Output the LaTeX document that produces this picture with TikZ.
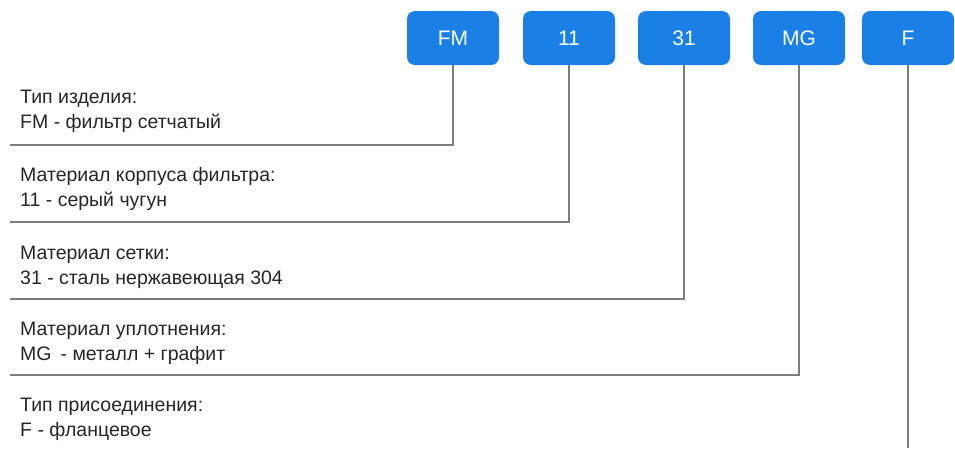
\documentclass[tikz,border=0pt]{standalone}
\usepackage{fontspec}
\setmainfont{Liberation Sans}
\definecolor{codeblue}{RGB}{26,128,229}
\definecolor{leadgray}{RGB}{125,125,125}
\tikzset{
  codebox/.style={fill=codeblue, rounded corners=8pt, minimum width=92pt,
    minimum height=54pt, inner sep=0pt, text=white, font=\fontsize{21}{24}\selectfont},
  desc/.style={anchor=base west, inner sep=0pt, text=black!85,
    font=\fontsize{19.5}{22}\selectfont},
  lead/.style={draw=leadgray, line width=1.5pt},
  leadshadow/.style={draw=black!12, line width=1.5pt}
}
\begin{document}
\begin{tikzpicture}[x=1pt,y=-1pt]
  \useasboundingbox (0,0) rectangle (955,448);
  % code boxes
  \node[codebox] (fm) at (453,38) {FM};
  \node[codebox] (ci) at (569,38) {11};
  \node[codebox] (net) at (684,38) {31};
  \node[codebox] (mg) at (799,38) {MG};
  \node[codebox] (fl) at (908,38) {F};
  % ends of the leaders
  \coordinate (e1) at (10,145);
  \coordinate (e2) at (10,222);
  \coordinate (e3) at (10,299);
  \coordinate (e4) at (10,375);
  \coordinate (e5) at (908,448);
  % shadows of the leaders
  \begin{scope}[xshift=1pt,yshift=-1.5pt]
    \draw[leadshadow] (fm.south) |- (e1);
    \draw[leadshadow] (ci.south) |- (e2);
    \draw[leadshadow] (net.south) |- (e3);
    \draw[leadshadow] (mg.south) |- (e4);
  \end{scope}
  % leaders
  \draw[lead] (fm.south) |- (e1);
  \draw[lead] (ci.south) |- (e2);
  \draw[lead] (net.south) |- (e3);
  \draw[lead] (mg.south) |- (e4);
  \draw[lead] (fl.south) -- (e5);
  % descriptions
  \node[desc] (t1) at (20,103) {Тип изделия:};
  \node[desc] (d1) at (20,128) {FM - фильтр сетчатый};
  \node[desc] (t2) at (20,181) {Материал корпуса фильтра:};
  \node[desc] (d2) at (20,206) {11 - серый чугун};
  \node[desc] (t3) at (20,259) {Материал сетки:};
  \node[desc] (d3) at (20,284) {31 - сталь нержавеющая 304};
  \node[desc] (t4) at (20,335) {Материал уплотнения:};
  \node[desc] (d4) at (20,360) {MG\hspace{9pt}- металл + графит};
  \node[desc] (t5) at (20,411) {Тип присоединения:};
  \node[desc] (d5) at (20,436) {F - фланцевое};
\end{tikzpicture}
\end{document}
